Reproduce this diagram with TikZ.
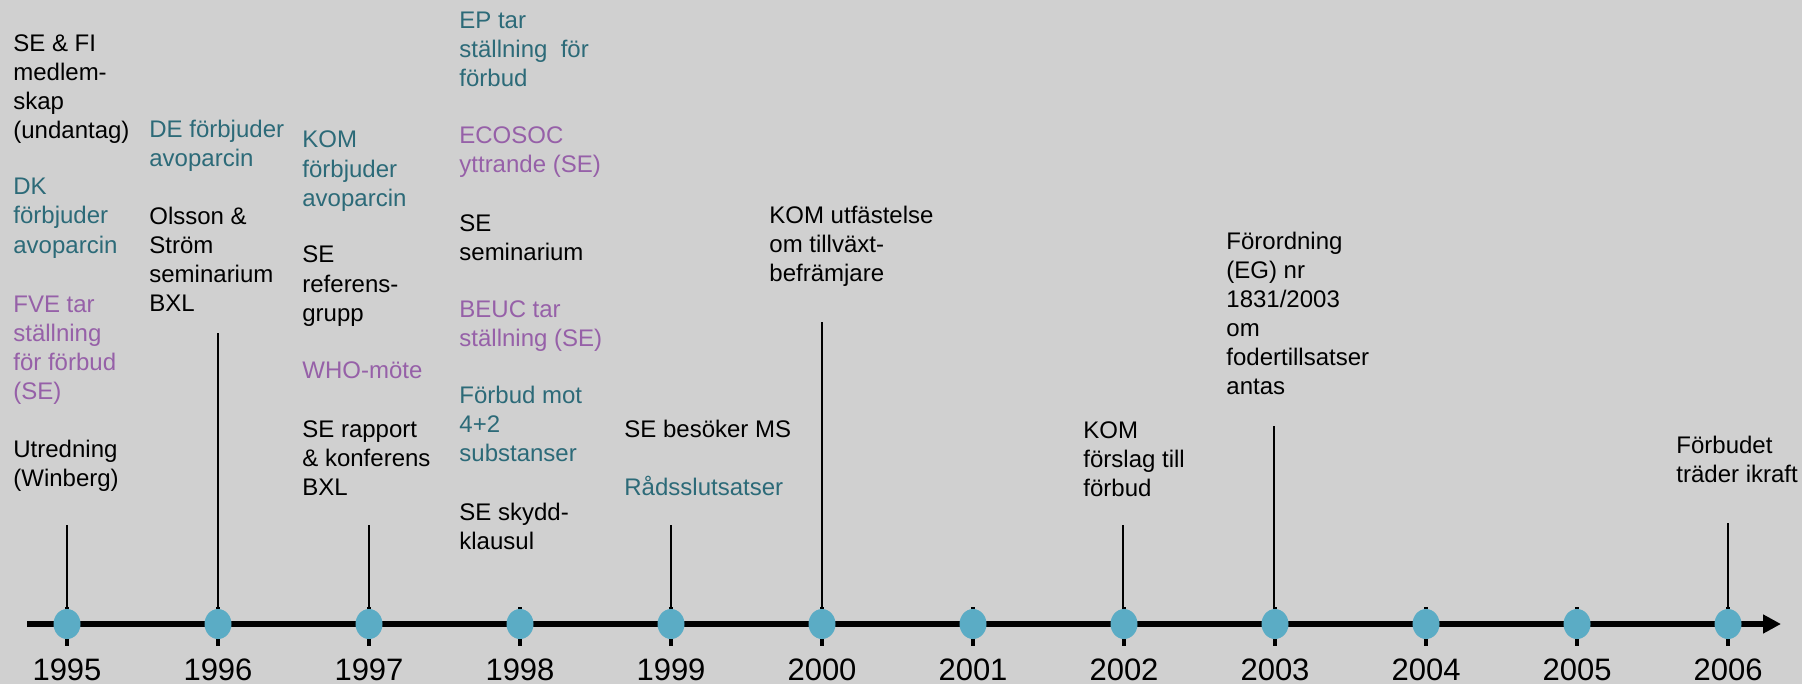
\documentclass[tikz,border=0pt]{standalone}
\usepackage{fontspec}
\setmainfont{Liberation Sans}
\usetikzlibrary{arrows.meta,shapes.geometric}
\definecolor{inkBlack}{RGB}{0,0,0}
\definecolor{inkTeal}{RGB}{44,106,120}
\definecolor{inkViolet}{RGB}{150,96,168}
\definecolor{inkDot}{RGB}{91,172,197}
\definecolor{inkPaper}{RGB}{208,208,208}

% text nodes sit on the baseline of their last line
\tikzset{
  evtext/.style={anchor=base west, inner sep=0pt, align=left, text=inkBlack,
    font=\fontsize{12pt}{14.5pt}\selectfont},
  evteal/.style={evtext, text=inkTeal},
  evviolet/.style={evtext, text=inkViolet},
  yeardot/.style={ellipse, fill=inkDot, minimum width=13.5pt, minimum height=15pt, inner sep=0pt},
  yearlabel/.style={anchor=base, inner sep=0pt, font=\fontsize{15.5pt}{18pt}\selectfont},
  stem/.style={line width=1pt},
  tick/.style={line width=2pt},
}

\begin{document}
\begin{tikzpicture}[x=0.5pt, y=-0.5pt]
\fill[inkPaper] (0,0) rectangle (1802,684);
\useasboundingbox (0,0) rectangle (1802,684);

% timeline
\foreach \yr [count=\i from 0] in {1995,...,2006}
  \draw[tick] ({67+151*\i},607) -- ({67+151*\i},646);
\coordinate (axL) at (27,624);
\coordinate (axR) at (1781,624);
\draw[line width=3pt, -{Triangle[length=9pt,width=9pt]}] (axL) -- (axR);
\foreach \yr [count=\i from 0] in {1995,...,2006}{
  \node[yeardot] (d\yr) at ({67+151*\i},624) {};
  \node[yearlabel] (y\yr) at ({67+151*\i},680) {\yr};
}

% stems
\coordinate (s1995) at (67,525);
\coordinate (s1996) at (218,333);
\coordinate (s1997) at (369,525);
\coordinate (s1999) at (671,525);
\coordinate (s2000) at (822,322);
\coordinate (s2002) at (1123,525);
\coordinate (s2003) at (1274,426);
\coordinate (s2006) at (1728,523);
\foreach \yr in {1995,1996,1997,1999,2000,2002,2003,2006}
  \draw[stem] (s\yr) -- (s\yr |- d\yr.north);

% 1995
\node[evtext] (e95a) at (13,139) {SE \& FI\\medlem-\\skap\\(undantag)};
\node[evteal] (e95b) at (13,253) {DK\\förbjuder\\avoparcin};
\node[evviolet] (e95c) at (13,399) {FVE tar\\ställning\\för förbud\\(SE)};
\node[evtext] (e95d) at (13,486) {Utredning\\(Winberg)};
% 1996
\node[evteal] (e96a) at (149,167) {DE förbjuder\\avoparcin};
\node[evtext] (e96b) at (149,311) {Olsson \&\\Ström\\seminarium\\BXL};
% 1997
\node[evteal] (e97a) at (302,206) {KOM\\förbjuder\\avoparcin};
\node[evtext] (e97b) at (302,321) {SE\\referens-\\grupp};
\node[evviolet] (e97c) at (302,378) {WHO-möte};
\node[evtext] (e97d) at (302,495) {SE rapport\\\& konferens\\BXL};
% 1998
\node[evteal] (e98a) at (459,87) {EP tar\\ställning\ \ för\\förbud};
\node[evviolet] (e98b) at (459,173) {ECOSOC\\yttrande (SE)};
\node[evtext] (e98c) at (459,260) {SE\\seminarium};
\node[evviolet] (e98d) at (459,346) {BEUC tar\\ställning (SE)};
\node[evteal] (e98e) at (459,461) {Förbud mot\\4+2\\substanser};
\node[evtext] (e98f) at (459,549) {SE skydd-\\klausul};
% 1999
\node[evtext] (e99a) at (624,437) {SE besöker MS};
\node[evteal] (e99b) at (624,495) {Rådsslutsatser};
% 2000
\node[evtext] (e00a) at (769,281) {KOM utfästelse\\om tillväxt-\\befrämjare};
% 2002
\node[evtext] (e02a) at (1083,496) {KOM\\förslag till\\förbud};
% 2003
\node[evtext] (e03a) at (1226,394) {Förordning\\(EG) nr\\1831/2003\\om\\fodertillsatser\\antas};
% 2006
\node[evtext] (e06a) at (1676,482) {Förbudet\\träder ikraft};
\end{tikzpicture}
\end{document}
